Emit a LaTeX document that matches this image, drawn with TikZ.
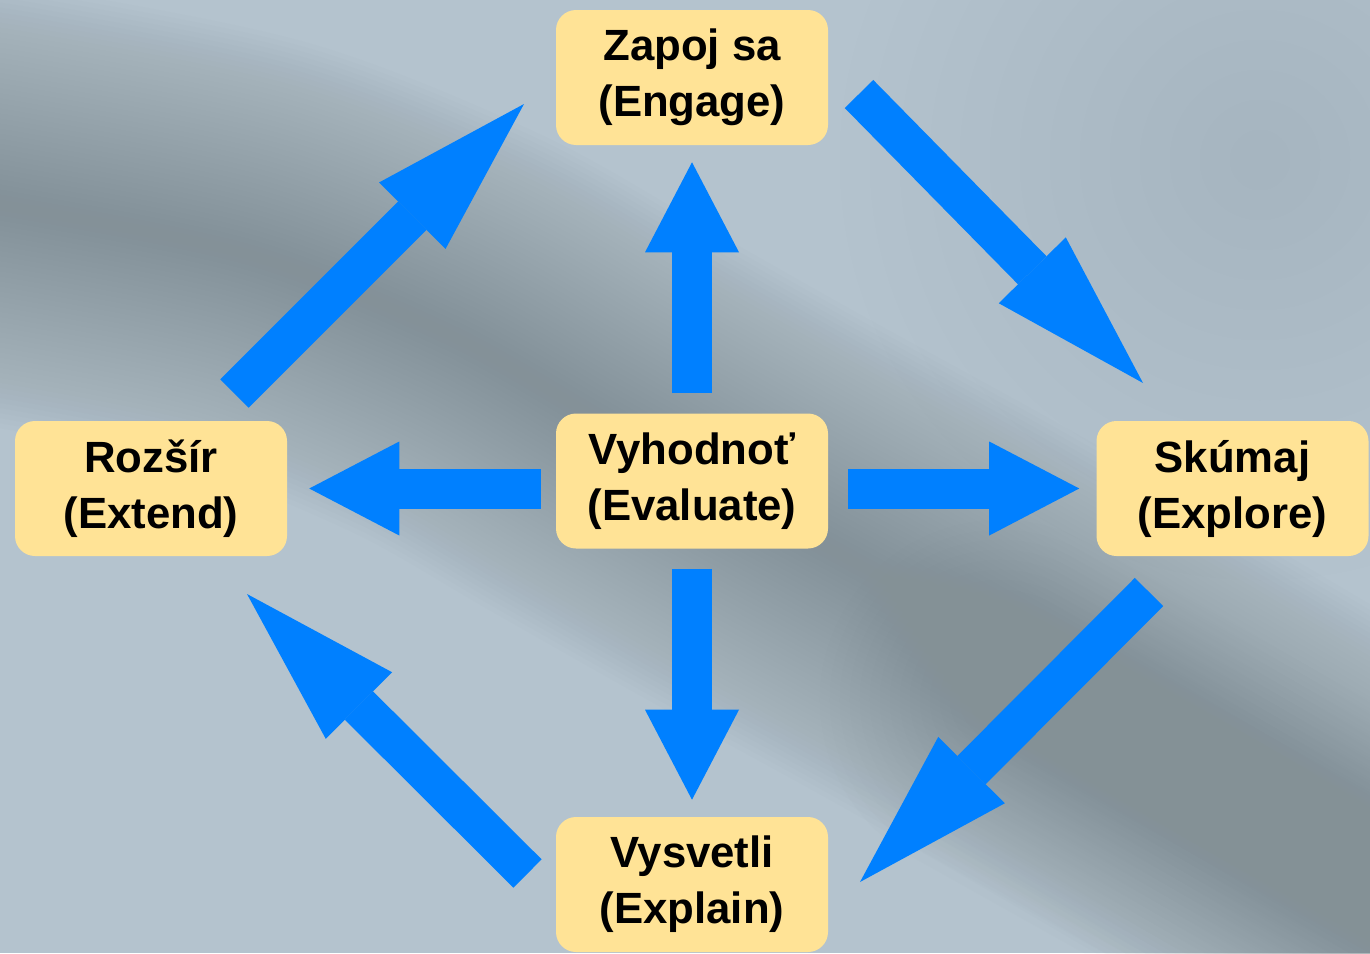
\documentclass[tikz,border=0pt]{standalone}
\usepackage{fontspec}
\setmainfont{Liberation Sans}
\usetikzlibrary{arrows.meta}
\definecolor{bgcol}{HTML}{B4C3CE}
\definecolor{bandcol}{HTML}{849196}
\definecolor{graycol}{HTML}{9DADB6}
\definecolor{boxcol}{HTML}{FFE396}
\definecolor{arrcol}{HTML}{0080FF}
\tikzset{
  stagebox/.style={fill=boxcol, draw=none, rounded corners=15pt,
    minimum width=204pt, minimum height=101.25pt, align=center, inner sep=0pt,
    font=\fontsize{32.8pt}{42pt}\selectfont\bfseries},
  straightarr/.style={draw=arrcol, line width=30pt, line cap=butt,
    -{Triangle[length=67.5pt,width=70.5pt,line width=0pt]}},
  diagarr/.style={draw=arrcol, line width=30pt, line cap=butt,
    -{Triangle[length=118.5pt,width=70.5pt,line width=0pt]}},
  bandstroke/.style={draw=bandcol, opacity=0.028, line cap=round, line join=round},
}
\begin{document}
\begin{tikzpicture}[x=0.75pt,y=-0.75pt]
% background
\fill[bgcol] (0,0) rectangle (1370,953);
\useasboundingbox (0,0) rectangle (1370,953);
\begin{scope}
\clip (0,0) rectangle (1370,953);
\foreach \r in {30,60,...,420}{
  \fill[graycol, opacity=0.04] (1260,160) circle (\r);
}
\foreach \w in {10,20,...,440}{
  \draw[bandstroke, line width=\w*0.75pt] plot[smooth] coordinates
    {(-120,190) (0,205) (250,255) (450,335) (600,420) (750,505) (950,615) (1150,730) (1370,860) (1520,950)};
}
\foreach \w in {20,40,...,360}{
  \draw[bandstroke, opacity=0.025, line width=\w*0.75pt] plot[smooth] coordinates
    {(1000,700) (1250,840) (1500,980)};
}
\end{scope}

% stages
\node[stagebox] (engage)   at (692,77.5)   {Zapoj sa\\(Engage)};
\node[stagebox] (evaluate) at (692,481)    {Vyhodnoť\\(Evaluate)};
\node[stagebox] (extend)   at (151,488.5)  {Rozšír\\(Extend)};
\node[stagebox] (explore)  at (1232.5,488.5) {Skúmaj\\(Explore)};
\node[stagebox] (explain)  at (692,884.5)  {Vysvetli\\(Explain)};

% straight arrows from evaluate
\draw[straightarr, shorten <=15pt, shorten >=12.75pt] (evaluate) -- (engage);
\draw[straightarr, shorten <=15pt, shorten >=12.75pt] (evaluate) -- (explain);
\draw[straightarr, shorten <=11.25pt, shorten >=16.5pt] (evaluate.west |- extend.east) -- (extend.east);
\draw[straightarr, shorten <=15pt, shorten >=12.75pt] (evaluate.east |- explore.west) -- (explore.west);

% cycle arrows
\coordinate (engOut) at (859,94);
\coordinate (expIn)  at (1143,383);
\coordinate (expOut) at (1149,592);
\coordinate (exlIn)  at (860,882);
\coordinate (exlOut) at (527.5,873.5);
\coordinate (extIn)  at (247,594);
\coordinate (extOut) at (234.5,393.5);
\coordinate (engIn)  at (524,104);
\draw[diagarr] (engOut) -- (expIn);
\draw[diagarr] (expOut) -- (exlIn);
\draw[diagarr] (exlOut) -- (extIn);
\draw[diagarr] (extOut) -- (engIn);
\end{tikzpicture}
\end{document}
